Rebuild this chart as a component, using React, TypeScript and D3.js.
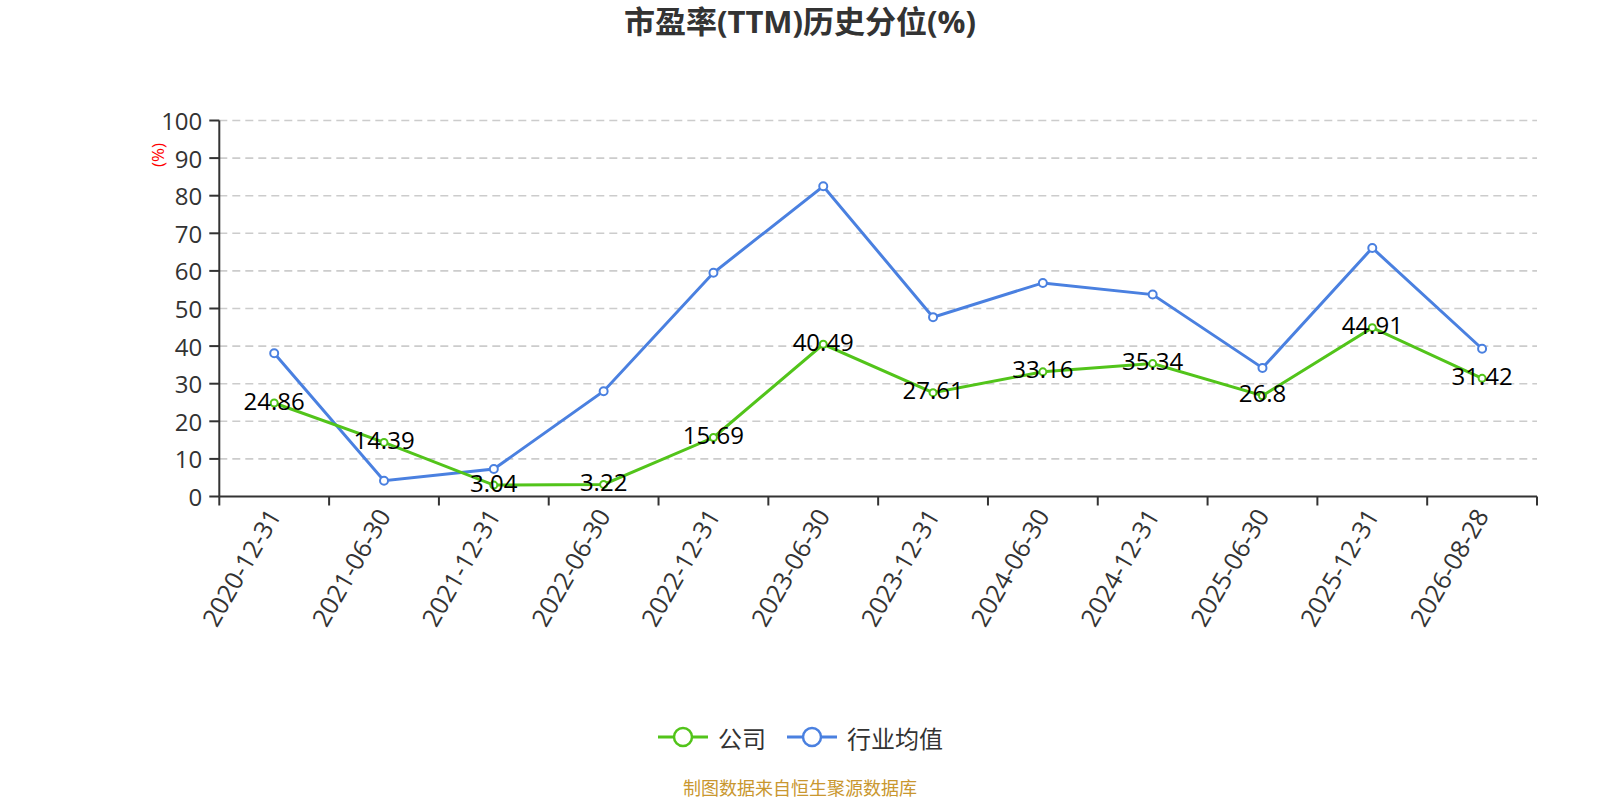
import React from "react";
import * as d3 from "d3";

const dates = [
  "2020-12-31", "2021-06-30", "2021-12-31", "2022-06-30", "2022-12-31", "2023-06-30",
  "2023-12-31", "2024-06-30", "2024-12-31", "2025-06-30", "2025-12-31", "2026-08-28",
];
const companyValues = [24.86, 14.39, 3.04, 3.22, 15.69, 40.49, 27.61, 33.16, 35.34, 26.8, 44.91, 31.42];
const industryValues = [38.1, 4.2, 7.3, 28.0, 59.5, 82.5, 47.7, 56.8, 53.7, 34.2, 66.1, 39.3];
const yTicks = [0, 10, 20, 30, 40, 50, 60, 70, 80, 90, 100];

const W = 1600;
const H = 800;
const left = 219.3;
const right = 1537;
const top = 120.5;
const bottom = 496.5;

const GREEN = "#52c41a";
const BLUE = "#4a80e0";
const FONT = "'Open Sans', 'Noto Sans CJK SC', sans-serif";
const CJK = "'Noto Sans CJK SC', sans-serif";

export default function App() {
  const x = d3.scaleBand<string>().domain(dates).range([left, right]);
  const y = d3.scaleLinear().domain([0, 100]).range([bottom, top]);
  const cx = (d: string) => (x(d) as number) + x.bandwidth() / 2;

  const line = d3
    .line<number>()
    .x((_, i) => cx(dates[i]))
    .y((v) => y(v));

  const boundaries = [...dates.map((d) => x(d) as number), right];

  return (
    <svg
      width={W}
      height={H}
      style={{ position: "absolute", left: 0, top: 0, background: "#fff" }}
      fontFamily={FONT}
    >
      <text x={800} y={21} textAnchor="middle" dominantBaseline="central" fontSize={31} fontWeight="bold" fill="#333">
        市盈率(TTM)历史分位(%)
      </text>

      {/* grid lines */}
      {yTicks.filter((t) => t > 0).map((t) => (
        <line key={"g" + t} x1={left} x2={right} y1={y(t)} y2={y(t)} stroke="#ccc" strokeWidth={1.6} strokeDasharray="8 5" />
      ))}

      {/* y axis */}
      <line x1={left} x2={left} y1={top} y2={bottom} stroke="#333" strokeWidth={2} />
      {yTicks.map((t) => (
        <g key={"y" + t}>
          <line x1={left - 10} x2={left} y1={y(t)} y2={y(t)} stroke="#333" strokeWidth={2} />
          <text x={left - 17} y={y(t)} textAnchor="end" dominantBaseline="central" fontSize={24} fill="#333">
            {t}
          </text>
        </g>
      ))}
      <text
        transform={`translate(157,155) rotate(-90)`}
        textAnchor="middle"
        dominantBaseline="central"
        fontSize={17}
        fill="red"
      >
        (%)
      </text>

      {/* x axis */}
      <line x1={left} x2={right} y1={bottom} y2={bottom} stroke="#333" strokeWidth={2} />
      {boundaries.map((b, i) => (
        <line key={"xt" + i} x1={b} x2={b} y1={bottom} y2={bottom + 9} stroke="#333" strokeWidth={2} />
      ))}
      {dates.map((d) => (
        <text
          key={"xl" + d}
          transform={`translate(${cx(d) - 1},${bottom + 14}) rotate(-60)`}
          textAnchor="end"
          dominantBaseline="central"
          fontSize={25}
          fill="#333"
        >
          {d}
        </text>
      ))}

      {/* lines */}
      <path d={line(industryValues) || ""} fill="none" stroke={BLUE} strokeWidth={3} />
      <path d={line(companyValues) || ""} fill="none" stroke={GREEN} strokeWidth={3} />

      {industryValues.map((v, i) => (
        <circle key={"bi" + i} cx={cx(dates[i])} cy={y(v)} r={4} fill="#fff" stroke={BLUE} strokeWidth={2} />
      ))}
      {companyValues.map((v, i) => (
        <circle key={"ci" + i} cx={cx(dates[i])} cy={y(v)} r={3.5} fill="#fff" stroke={GREEN} strokeWidth={2} />
      ))}
      {companyValues.map((v, i) => (
        <text key={"cl" + i} x={cx(dates[i])} y={y(v) - 3} textAnchor="middle" dominantBaseline="central" fontSize={24} fill="#000">
          {String(v)}
        </text>
      ))}

      {/* legend */}
      <g fontFamily={CJK}>
        <line x1={658} x2={708} y1={737} y2={737} stroke={GREEN} strokeWidth={3} />
        <circle cx={683} cy={737} r={9} fill="#fff" stroke={GREEN} strokeWidth={2.5} />
        <text x={718} y={737} dominantBaseline="central" fontSize={24} fill="#333">公司</text>
        <line x1={787} x2={837} y1={737} y2={737} stroke={BLUE} strokeWidth={3} />
        <circle cx={812} cy={737} r={9} fill="#fff" stroke={BLUE} strokeWidth={2.5} />
        <text x={847} y={737} dominantBaseline="central" fontSize={24} fill="#333">行业均值</text>
      </g>

      <text x={800} y={787} textAnchor="middle" dominantBaseline="central" fontSize={18} fill="#c9972f" fontFamily={CJK}>
        制图数据来自恒生聚源数据库
      </text>
    </svg>
  );
}
